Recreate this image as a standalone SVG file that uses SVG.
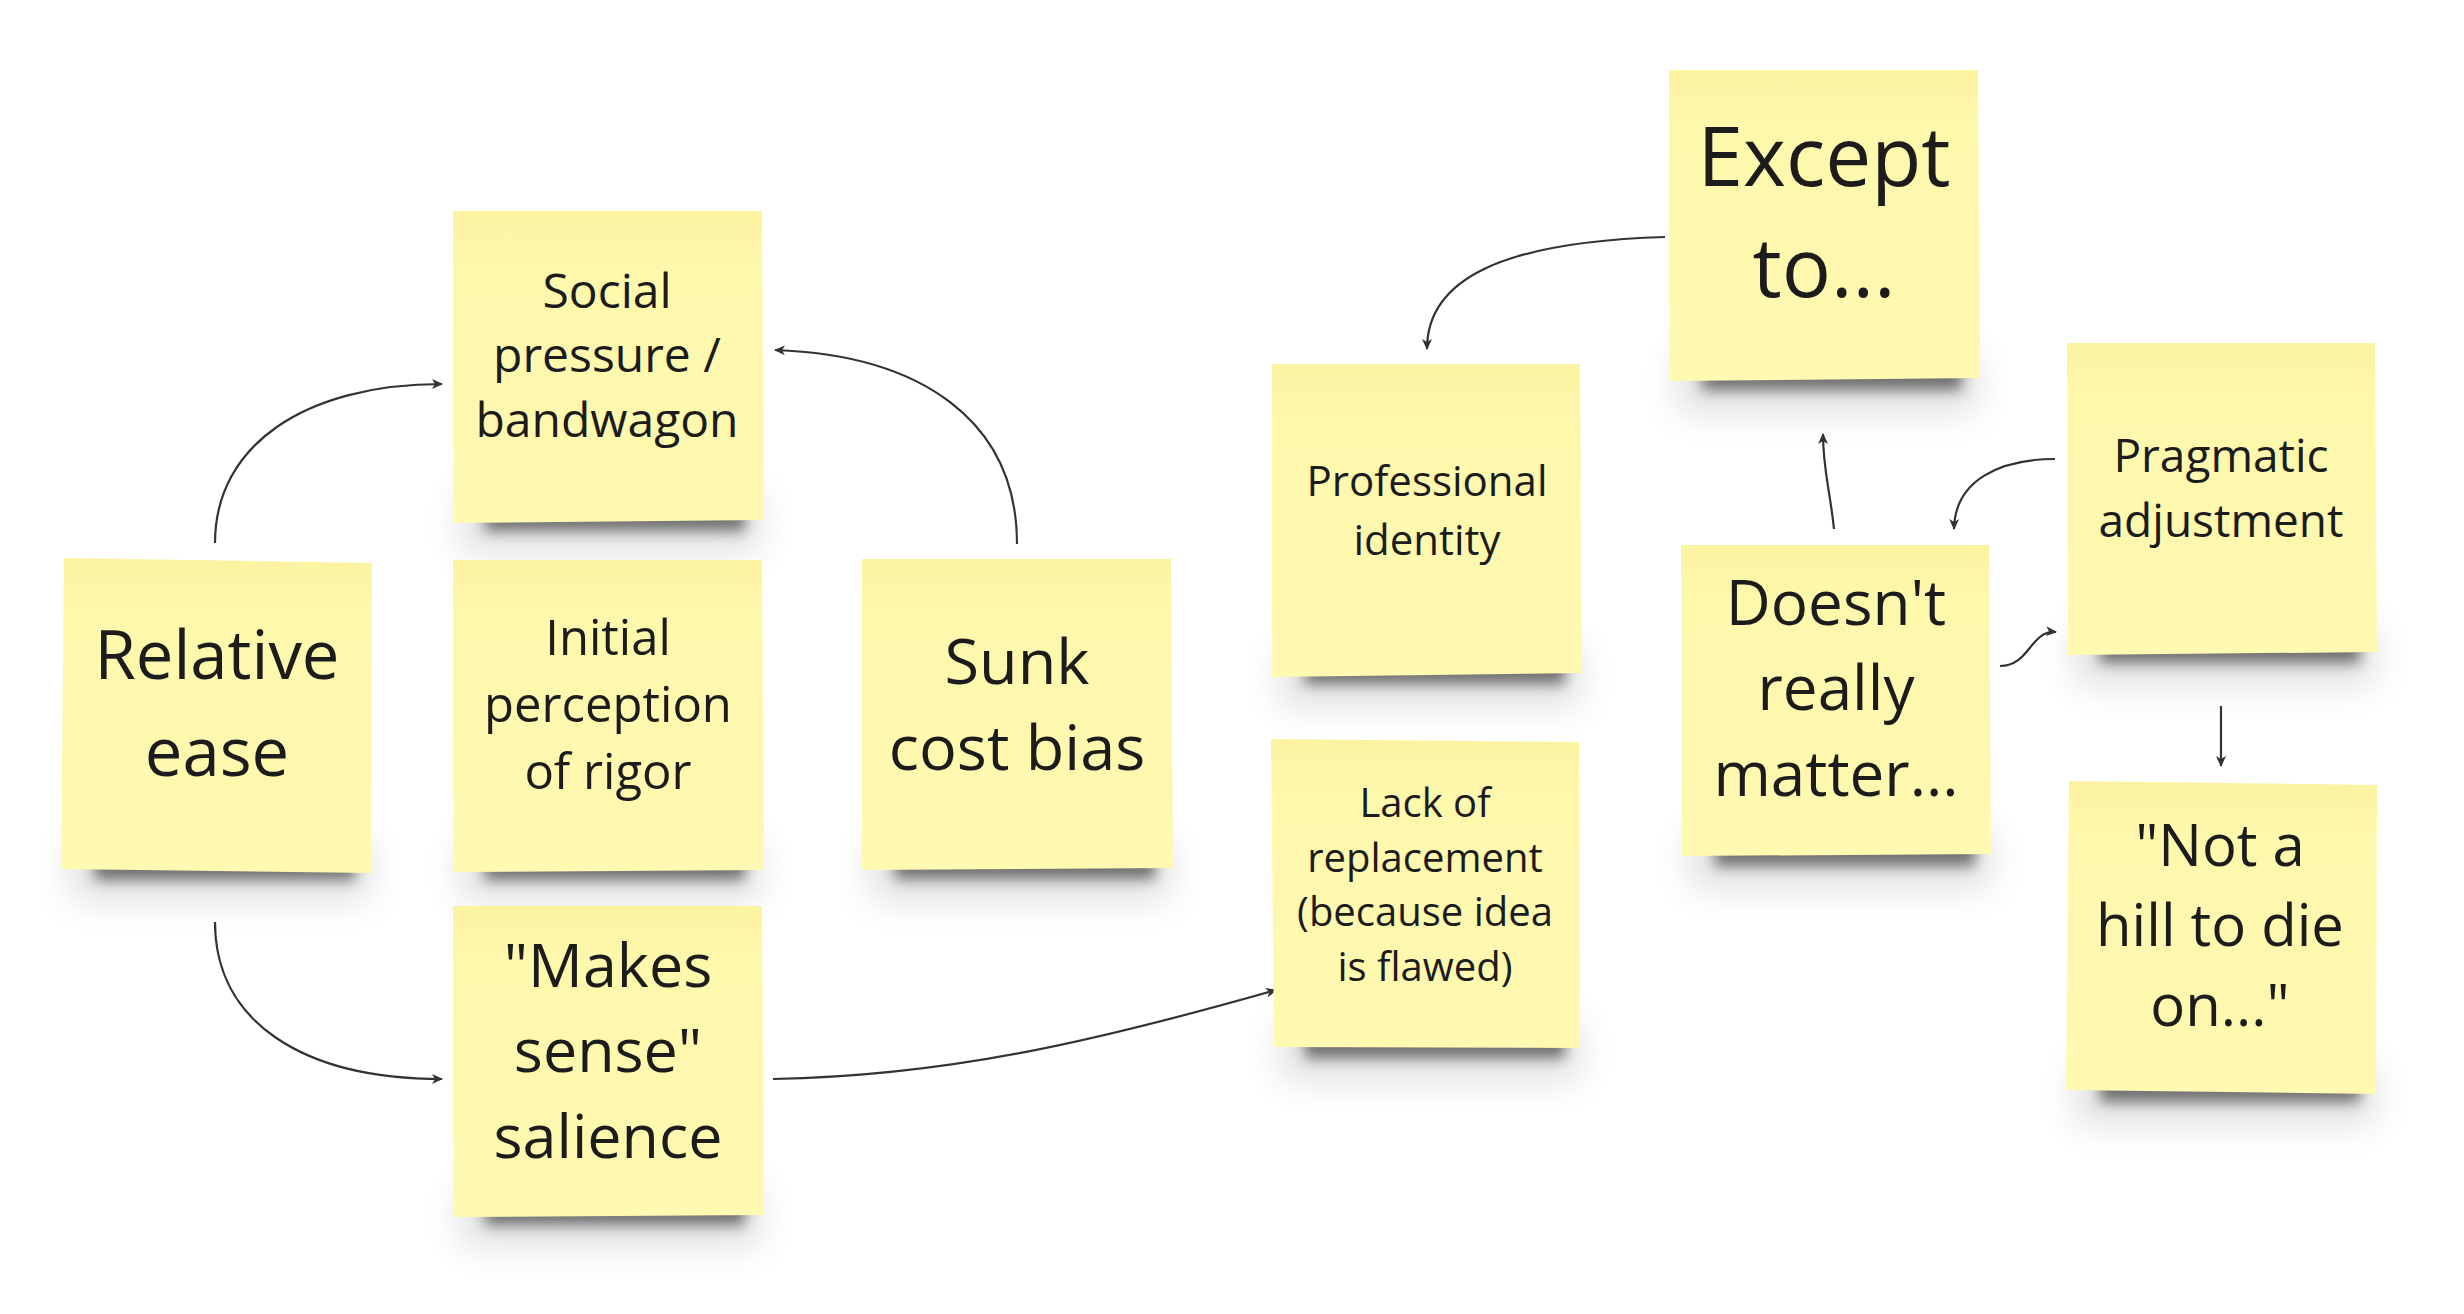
<svg xmlns="http://www.w3.org/2000/svg" width="2464" height="1314" viewBox="0 0 2464 1314">
<style>
.note{fill:url(#paper)}
.sh1{fill:#000;opacity:.5;filter:url(#blurA)}
.sh2{fill:#000;opacity:.12;filter:url(#blurB)}
text{font-family:"Open Sans","Noto Sans","Liberation Sans",sans-serif;fill:#1c1c1c;text-anchor:middle}
.conn path{fill:none;stroke:#333;stroke-width:2.2;marker-end:url(#arr)}
</style>
<defs>
<linearGradient id="paper" x1="0" y1="0" x2="0" y2="1">
<stop offset="0" stop-color="#fbf3a1"/>
<stop offset="0.18" stop-color="#fef8ad"/>
<stop offset="1" stop-color="#fff9b1"/>
</linearGradient>
<filter id="blurA" x="-20%" y="-100%" width="140%" height="300%"><feGaussianBlur stdDeviation="7"/></filter>
<filter id="blurB" x="-20%" y="-100%" width="140%" height="300%"><feGaussianBlur stdDeviation="18"/></filter>
<marker id="arr" viewBox="0 0 12 12" refX="10" refY="6" markerWidth="12" markerHeight="12" markerUnits="userSpaceOnUse" orient="auto">
<path d="M0,1 L11,6 L0,11 L3,6 z" fill="#333"/>
</marker>
</defs>
<rect width="2464" height="1314" fill="#fff"/>

<g id="connectors" class="conn">
<path d="M215,543 C215,445 305,384 442,384"/>
<path d="M1017,544 C1017,420 920,355 775,350"/>
<path d="M215,922 C215,1020 300,1079 442,1079"/>
<path d="M773,1079 C950,1076 1100,1040 1276,990"/>
<path d="M1665,237 C1500,242 1427,280 1427,349"/>
<path d="M1834,529 C1830,490 1823,470 1823,434"/>
<path d="M2055,459 C2000,459 1955,480 1954,529"/>
<path d="M2000,666 C2030,666 2030,630 2056,632"/>
<path d="M2221,706 L2221,766"/>
</g>

<g id="relative-ease">
<rect class="sh2" x="70" y="840" width="300" height="60"/>
<rect class="sh1" x="95" y="852" width="260" height="28"/>
<polygon class="note" points="64,558 372,563 371,873 61,869"/>
<text font-size="67"><tspan x="217" y="679">Relative</tspan><tspan x="217" y="776">ease</tspan></text>
</g>

<g id="social-pressure">
<rect class="sh2" x="460" y="492" width="300" height="60"/>
<rect class="sh1" x="485" y="503" width="260" height="28"/>
<polygon class="note" points="453,211 762,211 764,520 453,523"/>
<text font-size="48"><tspan x="607" y="308">Social</tspan><tspan x="607" y="372">pressure /</tspan><tspan x="607" y="437">bandwagon</tspan></text>
</g>

<g id="initial-perception">
<rect class="sh2" x="460" y="840" width="300" height="60"/>
<rect class="sh1" x="485" y="852" width="260" height="28"/>
<polygon class="note" points="453,560 762,560 764,870 453,872"/>
<text font-size="49"><tspan x="608" y="655">Initial</tspan><tspan x="608" y="722">perception</tspan><tspan x="608" y="789">of rigor</tspan></text>
</g>

<g id="makes-sense">
<rect class="sh2" x="460" y="1186" width="300" height="60"/>
<rect class="sh1" x="485" y="1197" width="260" height="28"/>
<polygon class="note" points="453,906 762,906 764,1215 453,1217"/>
<text font-size="61"><tspan x="608" y="987">"Makes</tspan><tspan x="608" y="1072">sense"</tspan><tspan x="608" y="1158">salience</tspan></text>
</g>

<g id="sunk-cost">
<rect class="sh2" x="870" y="840" width="300" height="60"/>
<rect class="sh1" x="895" y="851" width="260" height="28"/>
<polygon class="note" points="862,559 1171,559 1173,868 862,870"/>
<text font-size="63"><tspan x="1017" y="684">Sunk</tspan><tspan x="1017" y="770">cost bias</tspan></text>
</g>

<g id="professional-identity">
<rect class="sh2" x="1280" y="646" width="300" height="60"/>
<rect class="sh1" x="1305" y="656" width="260" height="28"/>
<polygon class="note" points="1272,364 1580,364 1582,673 1272,677"/>
<text font-size="42"><tspan x="1427" y="496">Professional</tspan><tspan x="1427" y="555">identity</tspan></text>
</g>

<g id="lack-of-replacement">
<rect class="sh2" x="1280" y="1020" width="300" height="60"/>
<rect class="sh1" x="1305" y="1030" width="260" height="28"/>
<polygon class="note" points="1271,739 1579,742 1580,1048 1274,1047"/>
<text font-size="40"><tspan x="1425" y="817">Lack of</tspan><tspan x="1425" y="872">replacement</tspan><tspan x="1425" y="926">(because idea</tspan><tspan x="1425" y="981">is flawed)</tspan></text>
</g>

<g id="except-to">
<rect class="sh2" x="1677" y="352" width="300" height="60"/>
<rect class="sh1" x="1702" y="362" width="260" height="28"/>
<polygon class="note" points="1669,70 1978,70 1980,378 1669,381"/>
<text font-size="82"><tspan x="1824" y="186">Except</tspan><tspan x="1824" y="297">to...</tspan></text>
</g>

<g id="doesnt-matter">
<rect class="sh2" x="1690" y="828" width="300" height="60"/>
<rect class="sh1" x="1715" y="838" width="260" height="28"/>
<polygon class="note" points="1681,545 1989,545 1991,854 1682,856"/>
<text font-size="62"><tspan x="1836" y="625">Doesn't</tspan><tspan x="1836" y="710">really</tspan><tspan x="1836" y="796">matter...</tspan></text>
</g>

<g id="pragmatic-adjustment">
<rect class="sh2" x="2075" y="625" width="300" height="60"/>
<rect class="sh1" x="2100" y="635" width="260" height="28"/>
<polygon class="note" points="2067,343 2375,343 2377,652 2068,655"/>
<text font-size="46"><tspan x="2221" y="472">Pragmatic</tspan><tspan x="2221" y="537">adjustment</tspan></text>
</g>

<g id="not-a-hill">
<rect class="sh2" x="2075" y="1064" width="300" height="60"/>
<rect class="sh1" x="2100" y="1074" width="260" height="28"/>
<polygon class="note" points="2069,781 2377,785 2376,1094 2066,1090"/>
<text font-size="58"><tspan x="2220" y="866">"Not a</tspan><tspan x="2220" y="946">hill to die</tspan><tspan x="2220" y="1026">on..."</tspan></text>
</g>
</svg>
